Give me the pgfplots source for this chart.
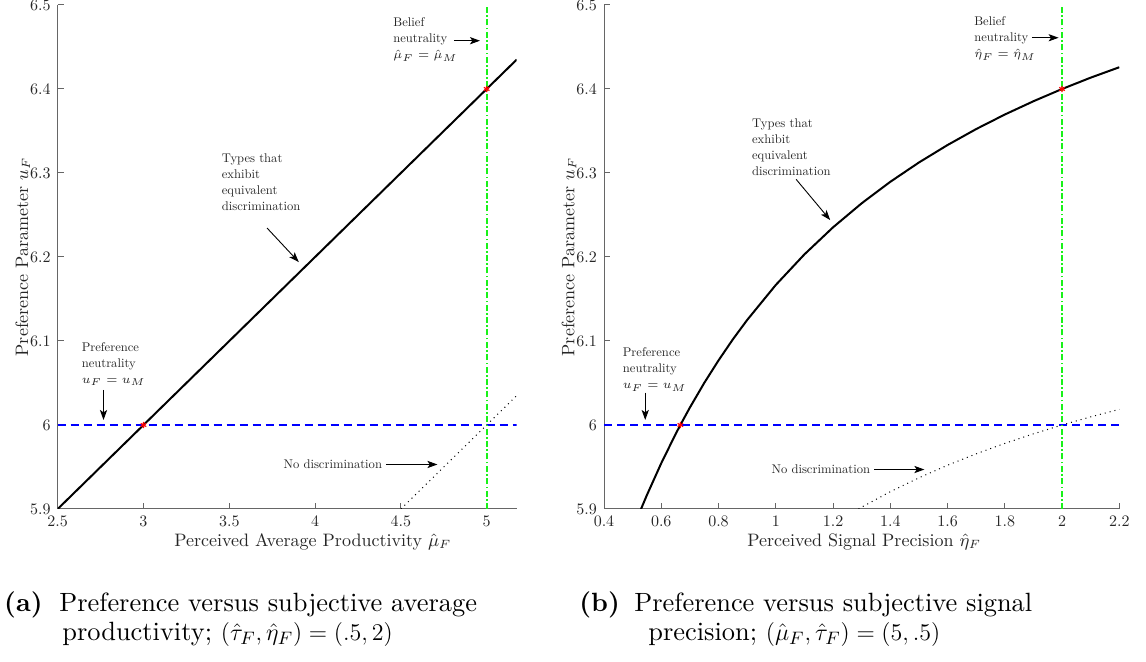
\documentclass[border=0pt]{standalone}
\usepackage{fontspec}
\setmainfont{lmroman10-regular.otf}[BoldFont=lmroman10-bold.otf, ItalicFont=lmroman10-italic.otf]
\usepackage{pgfplots}
\pgfplotsset{compat=1.18}
\usetikzlibrary{arrows.meta}
\definecolor{txt}{rgb}{0.15,0.15,0.15}
\definecolor{axc}{rgb}{0.4,0.4,0.4}
\definecolor{mblue}{rgb}{0,0,1}
\definecolor{mgreen}{rgb}{0.1,0.95,0.1}
\tikzset{
  ann/.style={font=\fontsize{6.3}{8}\selectfont, text=txt, align=left, anchor=west, inner sep=0pt},
  arr/.style={-{Stealth[length=5pt,width=3.6pt,inset=1.2pt]}, black, line width=0.45pt},
}
\pgfplotsset{
  myax/.style={
    scale only axis,
    anchor=south west,
    height=252pt,
    ymin=5.9, ymax=6.5,
    ytick={5.9,6,6.1,6.2,6.3,6.4,6.5},
    axis x line*=bottom, axis y line*=left,
    axis line style={axc, -, line width=0.5pt},
    tick style={axc, line width=0.5pt},
    tick align=inside,
    major tick length=3pt,
    /pgf/number format/assume math mode=true,
    tick label style={font=\fontsize{8}{9}\selectfont, text=txt},
    label style={font=\fontsize{9}{10}\selectfont, text=txt},
    ylabel={Preference Parameter $u_F$},
    ylabel style={at={(axis description cs:0,0.5)}, anchor=center, yshift=17.5pt},
    clip=true,
  },
}
\begin{document}
\begin{tikzpicture}[x=1pt,y=1pt]
\useasboundingbox (0,0) rectangle (573,-331);
% ---------------- left panel ----------------
\begin{axis}[myax,
  at={(28.85pt,-254.5pt)},
  width=229.5pt,
  xmin=2.5, xmax=5.175,
  xtick={2.5,3,3.5,4,4.5,5},
  xlabel={Perceived Average Productivity $\hat{\mu}_F$},
  xlabel style={at={(axis description cs:0.556,0)}, anchor=center, yshift=-16.4pt},
]
\addplot[black, line width=1pt] coordinates {(2.5,5.9) (3,6.0) (4,6.2) (5,6.4) (5.175,6.435)};
\addplot[black, dotted, line width=0.5pt] coordinates {(4.5,5.9) (5,6.0) (5.175,6.035)};
\addplot[mblue, line width=0.9pt, dash pattern=on 4pt off 2.5pt] coordinates {(2.5,6) (5.175,6)};
\addplot[mgreen, line width=0.9pt, dash pattern=on 3pt off 1.2pt on 0.8pt off 1.2pt] coordinates {(5,5.9) (5,6.5)};
\addplot[only marks, red, mark=asterisk, mark size=1.6pt, line width=0.6pt] coordinates {(3,6) (5,6.4)};
\node[ann] at (axis cs:4.454,6.459) {Belief\\neutrality\\$\hat{\mu}_F=\hat{\mu}_M$};
\draw[arr] (axis cs:4.809,6.4575) -- (axis cs:4.961,6.4575);
\node[ann] at (axis cs:3.454,6.289) {Types that\\exhibit\\equivalent\\discrimination};
\draw[arr] (axis cs:3.72,6.2345) -- (axis cs:3.905,6.194);
\node[ann] at (axis cs:2.638,6.0726) {Preference\\neutrality\\$u_F=u_M$};
\draw[arr] (axis cs:2.767,6.0417) -- (axis cs:2.767,6.006);
\node[ann] at (axis cs:3.814,5.953) {No discrimination};
\draw[arr] (axis cs:4.413,5.953) -- (axis cs:4.713,5.953);
\end{axis}
% ---------------- right panel ----------------
\begin{axis}[myax,
  at={(302pt,-254.5pt)},
  width=257.65pt,
  xmin=0.4, xmax=2.2,
  xtick={0.4,0.6,0.8,1,1.2,1.4,1.6,1.8,2,2.2},
  xlabel={Perceived Signal Precision $\hat{\eta}_F$},
  xlabel style={at={(axis description cs:0.505,0)}, anchor=center, yshift=-16.4pt},
]
\addplot[black, line width=1pt] coordinates {
(0.529,5.8997) (0.55,5.9167) (0.6,5.9545) (0.65,5.9891) (0.6667,6.0) (0.7,6.0208)
(0.75,6.05) (0.8,6.0769) (0.85,6.1019) (0.9,6.125) (1.0,6.1667) (1.1,6.2031)
(1.2,6.2353) (1.3,6.2639) (1.4,6.2895) (1.5,6.3125) (1.6,6.3333) (1.7,6.3523)
(1.8,6.3696) (1.9,6.3854) (2.0,6.4) (2.1,6.4135) (2.2,6.4259)};
\addplot[black, dotted, line width=0.5pt] coordinates {
(1.289,5.9) (1.3,5.9022) (1.4,5.9206) (1.5,5.9371) (1.6,5.9521) (1.7,5.9657)
(1.8,5.9781) (1.9,5.9895) (2.0,6.0) (2.1,6.0097) (2.2,6.0186)};
\addplot[mblue, line width=1.3pt, dash pattern=on 4pt off 2.5pt] coordinates {(0.4,6) (2.2,6)};
\addplot[mgreen, line width=1.2pt, dash pattern=on 3pt off 1.2pt on 0.8pt off 1.2pt] coordinates {(2,5.9) (2,6.5)};
\addplot[only marks, red, mark=asterisk, mark size=1.6pt, line width=0.6pt] coordinates {(0.6667,6) (2,6.4)};
\node[ann] at (axis cs:1.692,6.460) {Belief\\neutrality\\$\hat{\eta}_F=\hat{\eta}_M$};
\draw[arr] (axis cs:1.895,6.461) -- (axis cs:1.988,6.461);
\node[ann] at (axis cs:0.916,6.3313) {Types that\\exhibit\\equivalent\\discrimination};
\draw[arr] (axis cs:1.071,6.2925) -- (axis cs:1.19,6.244);
\node[ann] at (axis cs:0.4646,6.066) {Preference\\neutrality\\$u_F=u_M$};
\draw[arr] (axis cs:0.544,6.0385) -- (axis cs:0.544,6.006);
\node[ann] at (axis cs:0.984,5.947) {No discrimination};
\draw[arr] (axis cs:1.344,5.947) -- (axis cs:1.519,5.947);
\end{axis}
% ---------------- captions ----------------
\begin{scope}[every node/.style={inner sep=0pt, font=\fontsize{13.2}{14.5}\selectfont, text=black}]
\node[anchor=base west] at (1.9,-305.5) {\textbf{(a)}};
\node[anchor=north west, align=left] at (29.5,-296.3) {Preference versus subjective average\\\hspace*{1.5pt}productivity; $(\hat{\tau}_F,\hat{\eta}_F)=(.5,2)$};
\node[anchor=base west] at (289.5,-305.5) {\textbf{(b)}};
\node[anchor=north west, align=left] at (317,-296.3) {Preference versus subjective signal\\\hspace*{7pt}precision; $(\hat{\mu}_F,\hat{\tau}_F)=(5,.5)$};
\end{scope}
\end{tikzpicture}
\end{document}
